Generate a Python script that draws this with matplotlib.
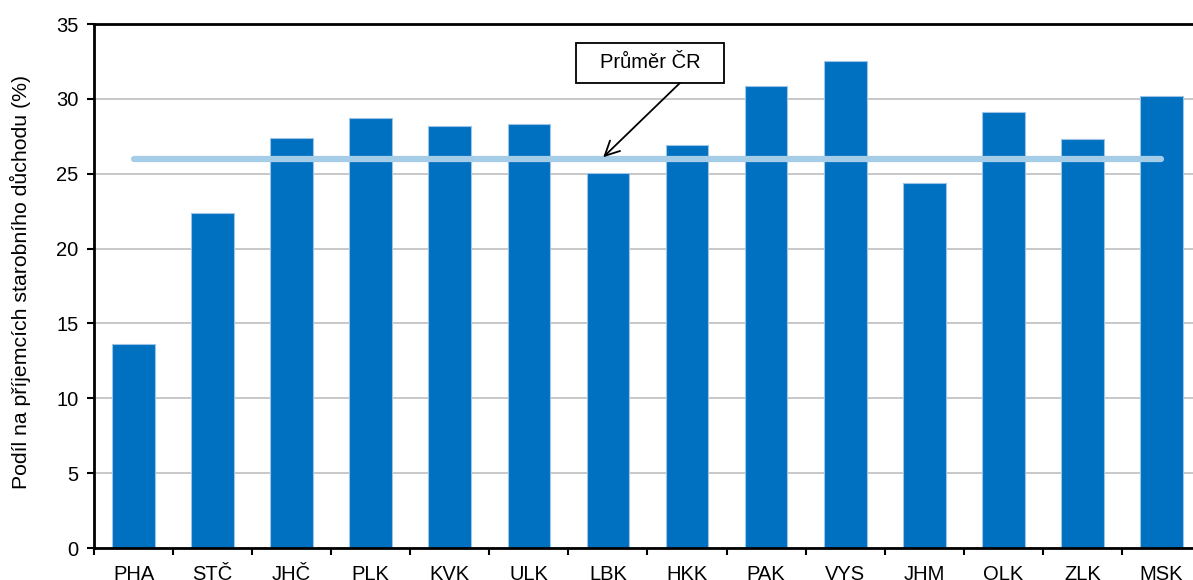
import numpy as np
import matplotlib.pyplot as plt
from matplotlib.patches import Rectangle

plt.rcParams['font.family'] = ['Liberation Sans', 'DejaVu Sans']

# kraje a podíly (%)
regions = ['PHA', 'STČ', 'JHČ', 'PLK', 'KVK', 'ULK', 'LBK',
           'HKK', 'PAK', 'VYS', 'JHM', 'OLK', 'ZLK', 'MSK']
shares = [13.6, 22.4, 27.4, 28.7, 28.2, 28.35, 25.05,
          26.9, 30.85, 32.55, 24.4, 29.1, 27.3, 30.2]
cr_avg = 25.95

fs = 14.5

fig = plt.figure(figsize=(11.93, 5.8), dpi=100)
# pravý okraj grafu je v originálu oříznutý
ax = fig.add_axes([94 / 1193, 32 / 580, 1107 / 1193, 524 / 580])

x = np.arange(len(regions))
ax.bar(x, shares, width=0.54, color='#0070C0', edgecolor='#9DC3E6',
       linewidth=0.8, zorder=2)
ax.plot(x, [cr_avg] * len(x), color='#A5CDE8', linewidth=4.5,
        solid_capstyle='round', zorder=3)

# popisek průměru: rámeček + šipka
ax.add_patch(Rectangle((5.60, 31.06), 1.87, 2.67, fc='white', ec='black',
                       lw=1.3, zorder=4))
ax.text(6.535, 32.4, 'Průměr ČR', ha='center', va='center', fontsize=fs,
        zorder=5)
ax.annotate('', xy=(5.94, cr_avg + 0.15), xytext=(6.91, 31.06),
            arrowprops=dict(arrowstyle='->', color='black', lw=1.3,
                            mutation_scale=26, shrinkA=0, shrinkB=0),
            zorder=4)

ax.set_xlim(-0.5, len(regions) - 0.5)
ax.set_ylim(0, 35)
ax.set_yticks(range(0, 36, 5))
ax.yaxis.grid(True, color='#BFBFBF', linewidth=1.2, zorder=0)
ax.set_axisbelow(True)

ax.set_xticks(x)
ax.set_xticklabels(regions, fontsize=fs)
ax.set_xticks(np.arange(-0.5, len(regions), 1), minor=True)
ax.tick_params(axis='x', which='major', length=0, pad=12)
ax.tick_params(axis='x', which='minor', length=5, width=1.5, direction='out')
ax.tick_params(axis='y', labelsize=fs, length=5, width=1.5, pad=6)

for side in ['left', 'bottom', 'top', 'right']:
    ax.spines[side].set_linewidth(2)
    ax.spines[side].set_color('black')

ax.set_ylabel('Podíl na příjemcích starobního důchodu (%)', fontsize=15.3)
ax.yaxis.set_label_coords(-0.057, 0.507)

fig.savefig('out.png', dpi=100)
